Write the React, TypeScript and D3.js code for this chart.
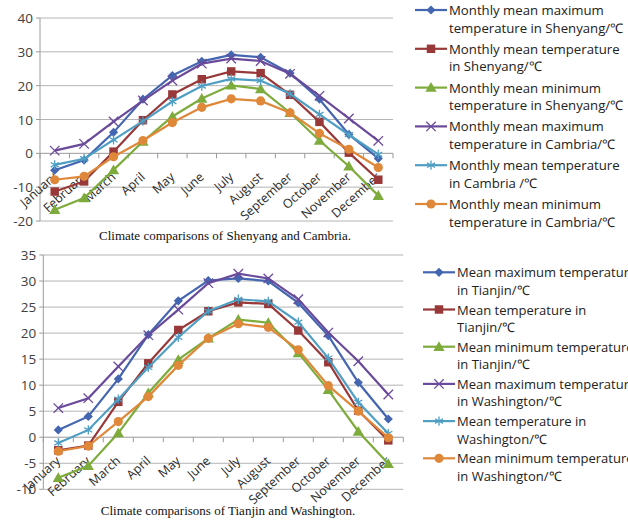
import React from "react";
import * as d3 from "d3";

const months = ["January", "February", "March", "April", "May", "June", "July", "August", "September", "October", "November", "December"];

// top chart: Shenyang vs Cambria
const shenyangMax = [-5, -2, 6.2, 16, 23, 27.2, 29.1, 28.4, 23.7, 16, 5.6, -1.5];
const shenyangMean = [-11.3, -8.3, 0.5, 9.8, 17.4, 21.9, 24.2, 23.7, 17.3, 9.3, 0.2, -7.8];
const shenyangMin = [-16.7, -13.2, -4.9, 3.5, 10.9, 16.2, 20.1, 19, 12, 3.8, -3.8, -12.5];
const cambriaMax = [0.8, 2.8, 9.4, 15.6, 21.5, 26.5, 28, 27.3, 23.5, 17, 10.3, 3.7];
const cambriaMean = [-3.4, -1.6, 4, 9.5, 15.3, 19.9, 22, 21.5, 17.6, 11.5, 5.5, -0.3];
const cambriaMin = [-7.8, -6.8, -1, 3.8, 9.1, 13.6, 16.1, 15.5, 12, 5.9, 1.2, -4.2];
const topTicks = [-20, -10, 0, 10, 20, 30, 40];
const topLabels = [
  ["Monthly mean maximum", "temperature in Shenyang/℃"],
  ["Monthly mean temperature", "in Shenyang/℃"],
  ["Monthly mean minimum", "temperature in Shenyang/℃"],
  ["Monthly mean maximum", "temperature in Cambria/℃"],
  ["Monthly mean temperature", "in Cambria /℃"],
  ["Monthly mean minimum", "temperature in Cambria/℃"],
];

// bottom chart: Tianjin vs Washington
const tianjinMax = [1.4, 4, 11.2, 19.7, 26.2, 30.1, 30.5, 30, 25.8, 19.5, 10.5, 3.5];
const tianjinMean = [-2.5, -1.6, 6.8, 14.2, 20.6, 24.2, 25.9, 25.6, 20.5, 14.4, 5.1, -0.6];
const tianjinMin = [-7.8, -5.5, 0.8, 8.5, 14.9, 19, 22.6, 22, 16.2, 9.1, 1.1, -5.1];
const washMax = [5.6, 7.5, 13.6, 19.6, 24.5, 29.6, 31.4, 30.5, 26.5, 20.1, 14.6, 8.2];
const washMean = [-1.1, 1.4, 7.3, 13.4, 19.2, 24.2, 26.5, 26.1, 22.1, 15.2, 6.7, 0.7];
const washMin = [-2.7, -1.7, 3, 7.8, 13.8, 19, 21.8, 21.1, 16.8, 9.9, 5, -0.1];
const bottomTicks = [-10, -5, 0, 5, 10, 15, 20, 25, 30, 35];
const bottomLabels = [
  ["Mean maximum temperature", "in Tianjin/℃"],
  ["Mean temperature in", "Tianjin/℃"],
  ["Mean minimum temperature", "in Tianjin/℃"],
  ["Mean maximum temperature", "in Washington/℃"],
  ["Mean temperature in", "Washington/℃"],
  ["Mean minimum temperature", "in Washington/℃"],
];

const colors = ["#4466b0", "#983838", "#7dab3c", "#6a4a9a", "#4f9ec4", "#e0883a"];
const shapes = ["diamond", "square", "triangle", "times", "asterisk", "circle"];

const Marker = ({ shape, x, y, color }) => {
  if (shape === "diamond") {
    return <path d={d3.symbol(d3.symbolSquare, 42)()} transform={`translate(${x},${y}) rotate(45)`} fill={color} />;
  }
  if (shape === "square") {
    return <path d={d3.symbol(d3.symbolSquare, 72)()} transform={`translate(${x},${y})`} fill={color} />;
  }
  if (shape === "triangle") {
    return <path d={d3.symbol(d3.symbolTriangle, 55)()} transform={`translate(${x},${y + 1})`} fill={color} />;
  }
  if (shape === "circle") {
    return <path d={d3.symbol(d3.symbolCircle, 66)()} transform={`translate(${x},${y})`} fill={color} />;
  }
  const t = shape === "times" ? d3.symbolTimes : d3.symbolAsterisk;
  return <path d={d3.symbol(t, 60)()} transform={`translate(${x},${y})`} fill="none" stroke={color} strokeWidth={1.3} />;
};

const Chart = ({ series, labels, ticks, domain, top, bottom, left, right, caption, captionX, captionY, legendX, legendY, legendStep, legendFont }) => {
  const x = d3.scaleBand().domain(months).range([left, right]);
  const y = d3.scaleLinear().domain(domain).range([bottom, top]);
  const line = d3.line<number>().x((d, i) => x(months[i])! + x.bandwidth() / 2).y(d => y(d));
  const y0 = y(0);

  return (
    <g>
      {ticks.map(t => (
        <g key={t}>
          <line x1={left} x2={right} y1={y(t)} y2={y(t)} stroke={t === 0 ? "#9a9a9a" : "#b4b4b4"} strokeWidth={1} />
          <line x1={left - 4} x2={left} y1={y(t)} y2={y(t)} stroke="#9a9a9a" />
          <text x={left - 7} y={y(t)} textAnchor="end" dominantBaseline="central" fontSize={13.5} fill="#404040" fontFamily="Open Sans, sans-serif">{t}</text>
        </g>
      ))}
      <line x1={left} x2={left} y1={top} y2={bottom} stroke="#9a9a9a" />
      {d3.range(13).map(i => (
        <line key={i} x1={left + i * x.step()} x2={left + i * x.step()} y1={y0} y2={y0 + 5} stroke="#9a9a9a" />
      ))}
      {months.map(m => (
        <text key={m} transform={`translate(${x(m)! + x.bandwidth() / 2 - 4},${y0 + 17}) rotate(-42)`} textAnchor="end" dominantBaseline="hanging" fontSize={12.5} fill="#2a2a2a" fontFamily="Open Sans, sans-serif">{m}</text>
      ))}
      {series.map((s, k) => (
        <g key={k}>
          <path d={line(s)!} fill="none" stroke={colors[k]} strokeWidth={2.2} />
          {s.map((v, i) => (
            <Marker key={i} shape={shapes[k]} x={x(months[i])! + x.bandwidth() / 2} y={y(v)} color={colors[k]} />
          ))}
        </g>
      ))}
      {labels.map((l, k) => {
        const ly = legendY + k * legendStep;
        return (
          <g key={k}>
            <line x1={legendX} x2={legendX + 32} y1={ly} y2={ly} stroke={colors[k]} strokeWidth={2.2} />
            <Marker shape={shapes[k]} x={legendX + 16} y={ly} color={colors[k]} />
            <text x={legendX + 34} y={ly} dominantBaseline="central" fontSize={legendFont} fill="#222" fontFamily="Open Sans, sans-serif">{l[0]}</text>
            <text x={legendX + 34} y={ly + 17.5} dominantBaseline="central" fontSize={legendFont} fill="#222" fontFamily="Open Sans, sans-serif">{l[1]}</text>
          </g>
        );
      })}
      <text x={captionX} y={captionY} textAnchor="middle" fontSize={13} fill="#111" fontFamily="Liberation Serif, serif">{caption}</text>
    </g>
  );
};

export default function App() {
  return (
    <svg width={628} height={522} style={{ position: "absolute", left: 0, top: 0, background: "#fff" }}>
      <Chart
        series={[shenyangMax, shenyangMean, shenyangMin, cambriaMax, cambriaMean, cambriaMin]}
        labels={topLabels}
        ticks={topTicks}
        domain={[-20, 40]}
        top={18}
        bottom={221}
        left={40}
        right={393}
        caption="Climate comparisons of Shenyang and Cambria."
        captionX={225}
        captionY={240}
        legendX={415}
        legendY={10}
        legendStep={38.8}
        legendFont={13.2}
      />
      <Chart
        series={[tianjinMax, tianjinMean, tianjinMin, washMax, washMean, washMin]}
        labels={bottomLabels}
        ticks={bottomTicks}
        domain={[-10, 35]}
        top={255}
        bottom={489.3}
        left={43.3}
        right={403.3}
        caption="Climate comparisons of Tianjin and Washington."
        captionX={228}
        captionY={515}
        legendX={423}
        legendY={272.3}
        legendStep={37.2}
        legendFont={13}
      />
    </svg>
  );
}
